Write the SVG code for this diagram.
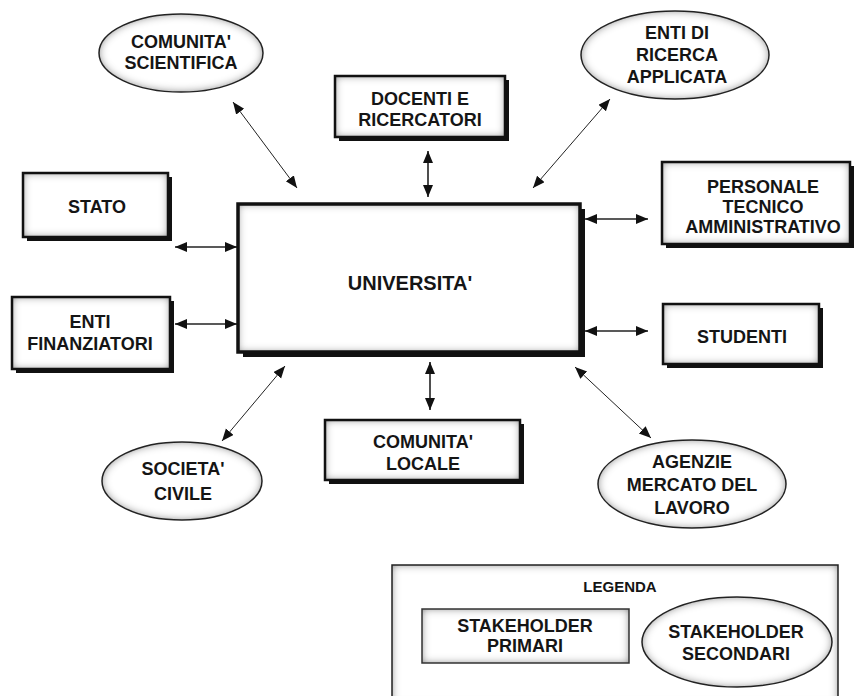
<svg xmlns="http://www.w3.org/2000/svg" width="854" height="696" viewBox="0 0 854 696">
<defs>
<filter id="inner" x="-10%" y="-20%" width="120%" height="140%">
<feFlood flood-color="#5a5a5a" result="f"/>
<feComposite in="f" in2="SourceAlpha" operator="out" result="o"/>
<feGaussianBlur in="o" stdDeviation="4.5" result="b"/>
<feComposite in="b" in2="SourceAlpha" operator="in" result="i"/>
<feMerge><feMergeNode in="SourceGraphic"/><feMergeNode in="i"/></feMerge>
</filter>
<marker id="ah" markerUnits="userSpaceOnUse" markerWidth="13" markerHeight="11" refX="12" refY="5" orient="auto-start-reverse">
<path d="M0,0 L12,5 L0,10 Z" fill="#111"/>
</marker>
<style>
.fill{fill:#fff;filter:url(#inner)}
.box{fill:none;stroke:#111;stroke-width:2.5}
.sh{fill:#111}
.ell{fill:none;stroke:#222;stroke-width:1.5}
.t{font-family:"Liberation Sans",Arial,sans-serif;font-weight:bold;font-size:18px;fill:#151515;text-anchor:middle}
.c line{stroke:#222;marker-start:url(#ah);marker-end:url(#ah)}
.d{stroke-width:1}
.s{stroke-width:1.6}
</style>
</defs>
<rect width="854" height="696" fill="#fff"/>

<g class="c" id="connectors">
<line class="d" x1="233" y1="102" x2="297" y2="188"/>
<line class="s" x1="428" y1="151" x2="428" y2="197"/>
<line class="d" x1="610" y1="99" x2="533" y2="188"/>
<line class="s" x1="175" y1="247" x2="237" y2="247"/>
<line class="s" x1="175" y1="324" x2="237" y2="324"/>
<line class="s" x1="585" y1="219" x2="648" y2="219"/>
<line class="s" x1="585" y1="331" x2="648" y2="331"/>
<line class="d" x1="285" y1="366" x2="222" y2="441"/>
<line class="s" x1="430" y1="362" x2="430" y2="410"/>
<line class="d" x1="575" y1="367" x2="651" y2="438"/>
</g>

<g id="comunita-scientifica">
<ellipse class="fill" cx="181" cy="53" rx="82" ry="39"/>
<ellipse class="ell" cx="181" cy="53" rx="82" ry="39"/>
<text class="t" x="181" y="48">COMUNITA'</text>
<text class="t" x="181" y="69">SCIENTIFICA</text>
</g>

<g id="docenti">
<rect class="sh" x="339" y="80" width="170" height="61"/>
<rect class="fill" x="335" y="76" width="170" height="61"/>
<rect class="box" x="335" y="76" width="170" height="61"/>
<text class="t" x="420" y="105">DOCENTI E</text>
<text class="t" x="420" y="126">RICERCATORI</text>
</g>

<g id="enti-ricerca">
<ellipse class="fill" cx="675" cy="55" rx="94" ry="44"/>
<ellipse class="ell" cx="675" cy="55" rx="94" ry="44"/>
<text class="t" x="677" y="39">ENTI DI</text>
<text class="t" x="677" y="61">RICERCA</text>
<text class="t" x="677" y="83">APPLICATA</text>
</g>

<g id="stato">
<rect class="sh" x="27" y="177" width="145" height="64"/>
<rect class="fill" x="23" y="173" width="145" height="64"/>
<rect class="box" x="23" y="173" width="145" height="64"/>
<text class="t" x="97" y="213">STATO</text>
</g>

<g id="universita">
<rect class="sh" x="243" y="209" width="342" height="148"/>
<rect class="fill" x="238" y="204" width="342" height="148"/>
<rect class="box" x="238" y="204" width="342" height="148" style="stroke-width:3.5"/>
<text class="t" x="410" y="290" style="font-size:20px">UNIVERSITA'</text>
</g>

<g id="enti-finanziatori">
<rect class="sh" x="16" y="301" width="158" height="72"/>
<rect class="fill" x="12" y="297" width="158" height="72"/>
<rect class="box" x="12" y="297" width="158" height="72"/>
<text class="t" x="90" y="328">ENTI</text>
<text class="t" x="90" y="350">FINANZIATORI</text>
</g>

<g id="personale">
<rect class="sh" x="666" y="166" width="188" height="82"/>
<rect class="fill" x="662" y="162" width="188" height="82"/>
<rect class="box" x="662" y="162" width="188" height="82"/>
<text class="t" x="763" y="193">PERSONALE</text>
<text class="t" x="763" y="213">TECNICO</text>
<text class="t" x="763" y="233">AMMINISTRATIVO</text>
</g>

<g id="studenti">
<rect class="sh" x="667" y="308" width="156" height="60"/>
<rect class="fill" x="663" y="304" width="156" height="60"/>
<rect class="box" x="663" y="304" width="156" height="60"/>
<text class="t" x="742" y="343">STUDENTI</text>
</g>

<g id="comunita-locale">
<rect class="sh" x="329" y="424" width="195" height="60"/>
<rect class="fill" x="325" y="420" width="195" height="60"/>
<rect class="box" x="325" y="420" width="195" height="60"/>
<text class="t" x="423" y="448">COMUNITA'</text>
<text class="t" x="423" y="470">LOCALE</text>
</g>

<g id="societa-civile">
<ellipse class="fill" cx="182" cy="481" rx="80" ry="39"/>
<ellipse class="ell" cx="182" cy="481" rx="80" ry="39"/>
<text class="t" x="183" y="475">SOCIETA'</text>
<text class="t" x="183" y="500">CIVILE</text>
</g>

<g id="agenzie">
<ellipse class="fill" cx="692" cy="484" rx="94" ry="44"/>
<ellipse class="ell" cx="692" cy="484" rx="94" ry="44"/>
<text class="t" x="692" y="468">AGENZIE</text>
<text class="t" x="692" y="491">MERCATO DEL</text>
<text class="t" x="692" y="514">LAVORO</text>
</g>

<g id="legenda">
<rect class="fill" x="392" y="565" width="446" height="140"/>
<rect x="392" y="565" width="446" height="140" fill="none" stroke="#222" stroke-width="1.5"/>
<text class="t" x="620" y="592" style="font-size:15px">LEGENDA</text>
<g id="legenda-primari">
<rect class="fill" x="422" y="609" width="207" height="54"/>
<rect x="422" y="609" width="207" height="54" fill="none" stroke="#333" stroke-width="1.5"/>
<text class="t" x="525" y="632">STAKEHOLDER</text>
<text class="t" x="525" y="652">PRIMARI</text>
</g>
<g id="legenda-secondari">
<ellipse class="fill" cx="737" cy="642" rx="95" ry="45"/>
<ellipse class="ell" cx="737" cy="642" rx="95" ry="45"/>
<text class="t" x="736" y="638">STAKEHOLDER</text>
<text class="t" x="736" y="660">SECONDARI</text>
</g>
</g>
</svg>
